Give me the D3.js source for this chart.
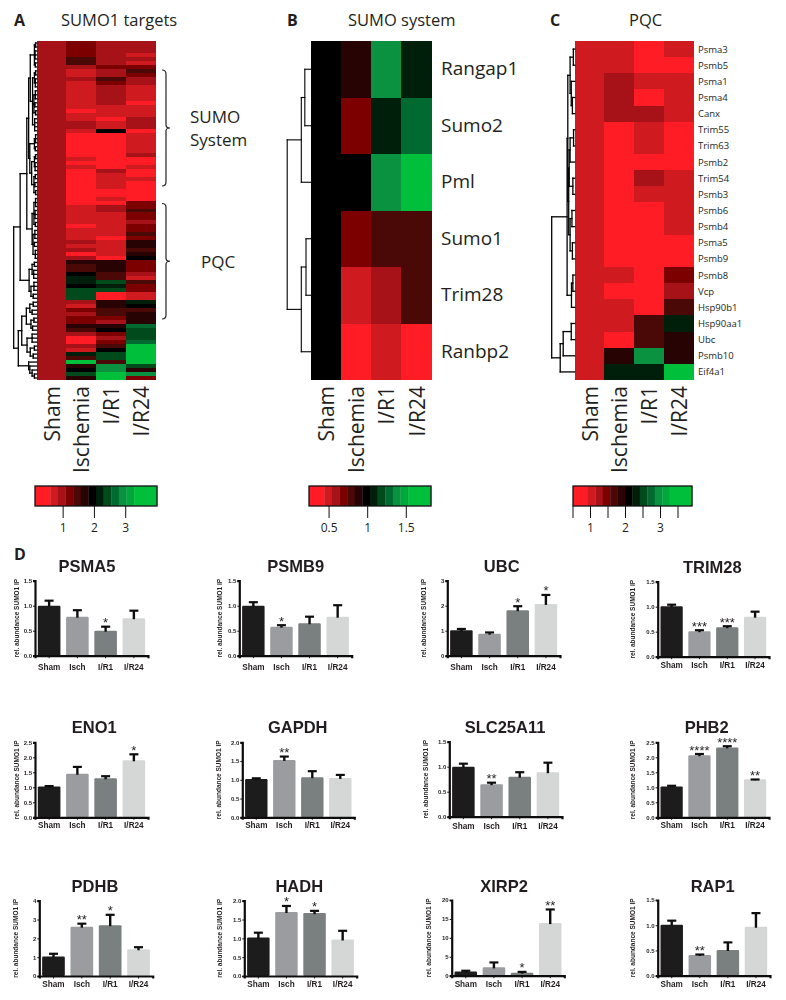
<!DOCTYPE html>
<html><head><meta charset="utf-8">
<script src="https://cdn.jsdelivr.net/npm/d3@7"></script>
<style>html,body{margin:0;padding:0;background:#fff}svg{display:block}
text{fill:#231f20}</style></head><body>
<script>
const conditions = ["Sham","Ischemia","I/R1","I/R24"];
const barLabels = ["Sham","Isch","I/R1","I/R24"];
const palette = ["#ff1c24","#cf1b20","#a61218","#7c0000","#4a0807","#280303","#000000","#001f0a","#004a1c","#006a30","#0a9240","#00a83c","#00bf3a"];
const paletteWeights = [2,1,1,1,1,1,1,1,1,1,1,1,3];

// Panel A : colour class per row
const targetsIsch = [3,3,3,3,4,4,2,1,1,2, 1,1,1,1,1,1,1,0,1,1, 2,2,1,0,0,0,0,0,0,1, 0,1,0,0,0,0,0,0,0,0, 0,1,1,1,1,1,0,1,1,1, 2,1,2,0,2,5,4,4,6,7, 7,6,8,8,8,2,1,3,2,3, 3,5,4,2,0,0,2,1,7,4, 12,5,6,8,5];
const targetsR1 = [2,2,2,2,2,2,3,2,2,4, 3,2,2,2,2,2,1,1,1,0, 1,1,6,0,0,0,0,0,0,0, 0,0,2,1,1,1,1,0,0,1, 0,2,2,1,1,1,1,1,1,0, 1,1,1,1,0,5,5,5,4,4, 8,7,8,0,0,5,5,4,4,3, 2,5,6,3,2,3,4,6,8,8, 4,10,10,12,12];
const targetsR24 = [2,2,2,1,2,1,3,4,3,2, 2,1,1,1,1,0,1,1,1,2, 2,2,0,1,1,1,1,1,2,0, 0,1,0,0,1,0,0,0,0,0, 3,3,4,3,3,2,3,3,4,3, 5,5,4,5,6,3,3,3,2,1, 4,3,3,1,1,7,6,4,5,5, 5,9,8,8,8,9,12,12,12,12, 12,8,5,10,3];
const targetsSham = targetsIsch.map(() => 2);

// Panel B
const systemGenes = ["Rangap1","Sumo2","Pml","Sumo1","Trim28","Ranbp2"];
const systemSham = [6,6,6,6,6,6];
const systemIsch = [5,3,6,3,1,0];
const systemR1 = [10,7,10,4,2,1];
const systemR24 = [7,9,12,4,4,0];

// Panel C
const pqcGenes = ["Psma3","Psmb5","Psma1","Psma4","Canx","Trim55","Trim63","Psmb2","Trim54","Psmb3","Psmb6","Psmb4","Psma5","Psmb9","Psmb8","Vcp","Hsp90b1","Hsp90aa1","Ubc","Psmb10","Eif4a1"];
const pqcSham = [1,1,1,1,1,1,1,1,1,1,1,1,1,1,1,1,1,1,1,1,1];
const pqcIsch = [1,1,2,2,2,0,0,0,0,0,0,0,0,0,1,0,1,1,0,5,7];
const pqcR1 = [0,0,1,0,2,1,1,0,2,1,0,0,0,0,0,0,0,4,4,10,7];
const pqcR24 = [1,0,1,1,1,0,0,0,1,1,1,1,0,0,3,2,4,7,5,5,12];

// Dendrograms: [merge height, ...children]; 0 is a leaf
const treeA = [1,
  [.72,
    [.43,
      [.35,
        [.28,[.1,[.05,0,0],[.07,0,0,0],[.06,0,0]],
             [.18,[.1,[.05,0,0],[.06,0,0,0]],[.12,[.06,0,0,0],[.08,0,0],[.05,0,0]],[.09,0,0,0,0]]],
        [.3,[.1,[.05,0,0,0],[.06,0,0]],
            [.22,[.1,[.05,0,0],[.07,0,0,0]],[.12,[.06,0,0],[.08,0,0],[.05,0,0]]]]],
      [.2,[.12,[.05,0,0,0],[.07,0,0,0],[.06,0,0]],[.16,[.08,0,0,0],[.1,0,0],[.06,0,0,0]]]],
    [.33,[.2,[.1,0,0],[.13,0,0,0]],[.25,[.12,0,0,0],[.15,0,0]]]],
  [.8,
    [.65,
      [.45,[.3,[.15,0,0],[.2,0,0]],[.25,[.12,0,0],[.18,0,0]]],
      [.42,[.2,0,0,0],[.28,[.1,0,0],[.15,0,0]]]],
    [.35,0,[.3,0,[.2,0,[.1,0,0]]]]]];
const treeB = [1,[.4,[.25,0,0],0],[.4,[.2,0,0],0]];
const treeC = [1,
  [.33,[.3,[.2,[.06,0,0],[.15,0,[.1,0,0]]],
           [.26,[.24,[.2,[.05,0,0],0],[.08,0,0]],[.2,[.12,0,0],[.1,0,0]]]],
       [.14,[.08,0,0],0]],
  [.63,[.5,[.15,0,0],0],0]];

// Panel D
const barNames = ["PSMA5","PSMB9","UBC","TRIM28","ENO1","GAPDH","SLC25A11","PHB2","PDHB","HADH","XIRP2","RAP1"];
const barMeans = [[1,.78,.5,.75],[1,.58,.65,.78],[1.02,.88,1.82,2.07],[1.01,.51,.59,.8],[1.03,1.45,1.3,1.9],[1.02,1.53,1.07,1.05],[1,.65,.8,.89],[1.03,2.07,2.33,1.27],[1.03,2.62,2.7,1.42],[1.02,1.7,1.67,.97],[1.1,2.2,.8,13.9],[1.01,.41,.51,.97]];
const barTops = [[1.1,.91,.58,.9],[1.07,.61,.78,1.01],[1.07,.93,1.98,2.43],[1.04,.53,.61,.9],[1.04,1.68,1.37,2.1],[1.04,1.62,1.23,1.13],[1.06,.68,.89,1.08],[1.05,2.11,2.37,1.26],[1.18,2.78,3.25,1.53],[1.15,1.86,1.73,1.2],[1.3,3.5,1,17.5],[1.09,.42,.66,1.24]];
const barStars = [["","","*",""],["","*","",""],["","","*","*"],["","***","***",""],["","","","*"],["","**","",""],["","**","",""],["","****","****","**"],["","**","*",""],["","*","*",""],["","","*","**"],["","**","",""]];
const barTicks = [[0,.5,1,1.5],[0,.5,1,1.5],[0,1,2,3],[0,.5,1,1.5],[0,.5,1,1.5,2,2.5],[0,.5,1,1.5,2],[0,.5,1,1.5],[0,.5,1,1.5,2,2.5],[0,1,2,3,4],[0,.5,1,1.5,2],[0,5,10,15,20],[0,.5,1,1.5]];
const barFormats = [".1f",".1f",".0f",".1f",".1f",".1f",".1f",".1f",".0f",".1f",".0f",".1f"];
const barFills = ["#1f1a1a","#9b9c9f","#7a7f80","#d5d7d7"];

const font = "'Open Sans',sans-serif", arial = "'Liberation Sans',Arial,sans-serif";
const svg = d3.select("body").append("svg").attr("width",786).attr("height",1000);
const colour = d3.scaleOrdinal(d3.range(palette.length), palette);

function heatmap(g, cols, x0, x1, y0, y1, tree, hw, sw){
  const n = cols[0].length;
  const xs = d3.scaleBand(conditions,[x0,x1]);
  const ys = d3.scaleBand(d3.range(n),[y0,y1]);
  cols.forEach((col,c)=>{
    g.append("g").attr("shape-rendering","crispEdges").selectAll("rect").data(col).join("rect")
      .attr("x",xs(conditions[c])).attr("width",xs.bandwidth())
      .attr("y",(d,i)=>ys(i)).attr("height",ys.bandwidth())
      .attr("fill",d=>colour(d));
  });
  // dendrogram
  const hs = d3.scaleLinear([0,1],[x0,x0-hw]);
  let leaf = 0; const segs = [];
  (function walk(node){
    if(node===0){ const y = ys(leaf++)+ys.bandwidth()/2; return {x:x0,y}; }
    const kids = node.slice(1).map(walk), x = hs(node[0]);
    kids.forEach(k=>segs.push([x,k.y,k.x,k.y]));
    segs.push([x,kids[0].y,x,kids[kids.length-1].y]);
    return {x,y:(kids[0].y+kids[kids.length-1].y)/2};
  })(tree);
  g.append("g").selectAll("line").data(segs).join("line")
    .attr("x1",d=>d[0]).attr("y1",d=>d[1]).attr("x2",d=>d[2]).attr("y2",d=>d[3])
    .attr("stroke","#000").attr("stroke-width",sw).attr("stroke-linecap","square");
  // column labels
  g.append("g").selectAll("text").data(conditions).join("text")
    .attr("transform",d=>`translate(${xs(d)+xs.bandwidth()/2+8},386) rotate(-90)`)
    .attr("text-anchor","end").attr("font-family",font).attr("font-size",21).text(d=>d);
  return ys;
}
function label(t,x,y,size,weight){
  svg.append("text").attr("x",x).attr("y",y).attr("font-family",font)
    .attr("font-size",size).attr("font-weight",weight||400).text(t);
}
label("A",14,26,16,700); label("SUMO1 targets",61,26,16.5);
label("B",287,26,16,700); label("SUMO system",348,26,16.5);
label("C",550,26,16,700); label("PQC",629,26,16.5);
label("D",14,560,16,700);

heatmap(svg.append("g"),[targetsSham,targetsIsch,targetsR1,targetsR24],36.7,155.6,41,380,treeA,23,1.3);
const ysB = heatmap(svg.append("g"),[systemSham,systemIsch,systemR1,systemR24],310.7,431.7,41,380,treeB,23.5,1.1);
const ysC = heatmap(svg.append("g"),[pqcSham,pqcIsch,pqcR1,pqcR24],574.7,693.5,41,380,treeC,23,1.3);

svg.append("g").selectAll("text").data(systemGenes).join("text")
  .attr("x",441).attr("y",(d,i)=>ysB(i)+ysB.bandwidth()/2+6)
  .attr("font-family",font).attr("font-size",19).text(d=>d);
svg.append("g").selectAll("text").data(pqcGenes).join("text")
  .attr("x",698).attr("y",(d,i)=>ysC(i)+ysC.bandwidth()/2+3.5)
  .attr("font-family",font).attr("font-size",9.5).text(d=>d);

// brackets in panel A
function bracket(y0,y1){
  const m=(y0+y1)/2, x=162, c=d3.path();
  c.moveTo(x,y0); c.quadraticCurveTo(x+4,y0,x+4,y0+4); c.lineTo(x+4,m-3);
  c.quadraticCurveTo(x+4,m,x+8,m); c.quadraticCurveTo(x+4,m,x+4,m+3);
  c.lineTo(x+4,y1-4); c.quadraticCurveTo(x+4,y1,x,y1);
  svg.append("path").attr("d",c.toString()).attr("fill","none").attr("stroke","#222").attr("stroke-width",1.2);
}
bracket(70,186); bracket(203.5,319);
label("SUMO",190,123,17); label("System",190,146,17); label("PQC",201,268,17);

// colour bars
function colourBar(x0,x1,dom,ticks,labelled,fmt){
  const g=svg.append("g"), total=d3.sum(paletteWeights);
  const sx=d3.scaleLinear([0,total],[x0,x1]), cum=d3.cumsum(paletteWeights);
  g.selectAll("rect").data(palette).join("rect")
    .attr("x",(d,i)=>sx(i?cum[i-1]:0)).attr("width",(d,i)=>sx(paletteWeights[i])-x0+.3)
    .attr("y",486).attr("height",20).attr("fill",d=>d);
  g.append("rect").attr("x",x0).attr("y",486).attr("width",x1-x0).attr("height",20)
    .attr("fill","none").attr("stroke","#111").attr("stroke-width",1.3);
  const v=d3.scaleLinear(dom,[x0,x1]);
  g.selectAll("line").data(ticks).join("line").attr("x1",d=>v(d)).attr("x2",d=>v(d))
    .attr("y1",506).attr("y2",518).attr("stroke","#111").attr("stroke-width",1);
  g.selectAll("text").data(labelled).join("text").attr("x",d=>v(d)).attr("y",532)
    .attr("text-anchor","middle").attr("font-family","'Liberation Sans Narrow','Open Sans',sans-serif")
    .attr("font-size",12).text(d=>d3.format(fmt)(d));
}
colourBar(35,157,[.1,4],[1,2,3],[1,2,3],"d");
colourBar(309,431,[.24,1.82],[.5,1,1.5],[.5,1,1.5],"");
colourBar(573,692,[.5,3.9],[.5,1,1.5,2,2.5,3,3.5],[1,2,3],"d");

// bar panels: axis x, x-axis end, top, base, title centre, title baseline, y label x, label baseline
const panelBox = [
 [35,148,580.7,655.7,87,571.5,16.7,670],[239.3,351.7,580.7,655.7,295.7,571.5,220,670],
 [447.3,560,580.7,655.7,501.7,571.5,424,670],[657.7,769,581.7,656.7,712.3,573,632.7,668],
 [35,148,742.3,817.3,94.3,733.3,16.7,828.3],[242.3,354.3,742.3,817.3,297.7,733.3,219,828.3],
 [449.3,562,741.7,816.7,505,733.3,426,829],[657.7,769,742.3,817.3,706.7,733.3,632.7,828.3],
 [39.3,152.7,900.7,976,95,892.3,16,987],[244.3,356.7,900.7,976,299.3,892.3,220,987],
 [451.7,564.3,900,975.7,504,892.3,429.3,987],[657.7,770,900,975.7,712.7,892.3,633.3,987]];

const blur = svg.append("defs").append("filter").attr("id","soft");
blur.append("feGaussianBlur").attr("stdDeviation",.35);

barNames.forEach((name,p)=>{
  const [ax,xe,top,base,tc,tb,yl,lb]=panelBox[p];
  const g=svg.append("g").attr("filter","url(#soft)");
  const x=d3.scaleBand(barLabels,[ax,xe]).paddingInner(.2).paddingOuter(.1);
  const ticks=barTicks[p];
  const y=d3.scaleLinear([0,ticks[ticks.length-1]],[base,top]);
  g.append("g").selectAll("rect").data(barMeans[p]).join("rect")
    .attr("x",(d,i)=>x(barLabels[i])).attr("width",x.bandwidth())
    .attr("y",d=>y(d)).attr("height",d=>base-y(d)).attr("rx",1.2)
    .attr("fill",(d,i)=>barFills[i]);
  const e=g.append("g").selectAll("g").data(barTops[p]).join("g");
  e.append("line").attr("x1",(d,i)=>x(barLabels[i])+x.bandwidth()/2).attr("x2",(d,i)=>x(barLabels[i])+x.bandwidth()/2)
    .attr("y1",d=>y(d)).attr("y2",(d,i)=>y(barMeans[p][i])+1).attr("stroke","#111").attr("stroke-width",2.4);
  e.append("line").attr("x1",(d,i)=>x(barLabels[i])+x.bandwidth()/2-4.5).attr("x2",(d,i)=>x(barLabels[i])+x.bandwidth()/2+4.5)
    .attr("y1",d=>y(d)).attr("y2",d=>y(d)).attr("stroke","#111").attr("stroke-width",2.2);
  g.append("g").selectAll("text").data(barStars[p]).join("text")
    .attr("x",(d,i)=>x(barLabels[i])+x.bandwidth()/2).attr("y",(d,i)=>y(barTops[p][i])+.5)
    .attr("text-anchor","middle").attr("font-family",arial).attr("font-size",13).attr("fill","#333").text(d=>d);
  const ya=g.append("g").attr("transform",`translate(${ax},0)`)
    .call(d3.axisLeft(y).tickValues(ticks).tickSizeOuter(0).tickSize(2).tickPadding(1).tickFormat(d3.format(barFormats[p])));
  const xa=g.append("g").attr("transform",`translate(0,${base})`)
    .call(d3.axisBottom(x).tickSizeOuter(0).tickSize(2.5).tickPadding(5));
  [ya,xa].forEach(a=>{a.select(".domain").attr("stroke","#111").attr("stroke-width",2.2);a.selectAll(".tick line").attr("stroke","#111").attr("stroke-width",1);});
  ya.selectAll("text").attr("font-family",arial).attr("font-size",6).attr("font-weight",700).attr("fill","#444");
  xa.selectAll("text").attr("font-family",arial).attr("font-size",8.2).attr("font-weight",700).attr("fill","#333")
    .attr("y",lb-base).attr("dy",0);
  g.append("text").attr("transform",`translate(${yl+2},${(top+base)/2}) rotate(-90)`).attr("text-anchor","middle")
    .attr("font-family",arial).attr("font-size",6.5).attr("font-weight",700).attr("fill","#555").text("rel. abundance SUMO1 IP");
  g.append("text").attr("x",tc).attr("y",tb).attr("text-anchor","middle").attr("font-family",arial)
    .attr("font-size",16.5).attr("font-weight",700).attr("fill","#222").text(name);
});
</script></body></html>
